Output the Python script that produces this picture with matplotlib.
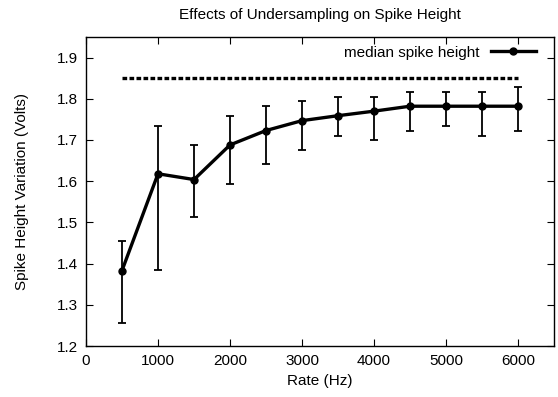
import numpy as np
import matplotlib
matplotlib.use('Agg')
import matplotlib.pyplot as plt

plt.rcParams['font.family'] = ['Liberation Sans', 'DejaVu Sans']

rate = [500, 1000, 1500, 2000, 2500, 3000, 3500, 4000, 4500, 5000, 5500, 6000]
median = [1.383, 1.618, 1.604, 1.688, 1.723, 1.747, 1.759, 1.770, 1.782, 1.782, 1.782, 1.782]
err_top = [1.454, 1.735, 1.688, 1.758, 1.782, 1.794, 1.805, 1.805, 1.817, 1.817, 1.817, 1.829]
err_bot = [1.255, 1.385, 1.512, 1.594, 1.641, 1.676, 1.710, 1.699, 1.723, 1.735, 1.710, 1.723]
ref_x = [500, 6000]
ref_y = [1.85, 1.85]

med = np.array(median)
yerr = [med - np.array(err_bot), np.array(err_top) - med]

fig = plt.figure(figsize=(5.58, 3.97), dpi=100)
ax = fig.add_axes([86 / 558, 1 - 346 / 397, 468 / 558, 309 / 397])

ax.errorbar(rate, median, yerr=yerr, fmt='none', ecolor='black', elinewidth=1.3,
            capsize=3, capthick=1.3)
ax.plot(rate, median, color='black', lw=2.4, marker='o', ms=5,
        label='median spike height')
ax.plot(ref_x, ref_y, color='black', lw=2.4, linestyle=(0, (1.4, 0.7)),
        dash_capstyle='butt')

ax.set_xlim(0, 6500)
ax.set_ylim(1.2, 1.95)
ax.set_xticks(np.arange(0, 6001, 1000))
ax.set_yticks(np.arange(1.2, 1.91, 0.1))
ax.tick_params(direction='in', top=True, right=True, length=5, width=0.8,
               labelsize=11, pad=6)
for s in ax.spines.values():
    s.set_linewidth(1.0)

ax.set_xlabel('Rate (Hz)', fontsize=11, labelpad=4)
ax.set_ylabel('Spike Height Variation (Volts)', fontsize=11, labelpad=20)
ax.set_title('Effects of Undersampling on Spike Height', fontsize=11, pad=13)

leg = ax.legend(loc='upper right', bbox_to_anchor=(0.974, 0.992), frameon=False,
                fontsize=11, markerfirst=False, handlelength=2.95,
                borderaxespad=0, handletextpad=0.72)

fig.savefig('out.png', dpi=100)
